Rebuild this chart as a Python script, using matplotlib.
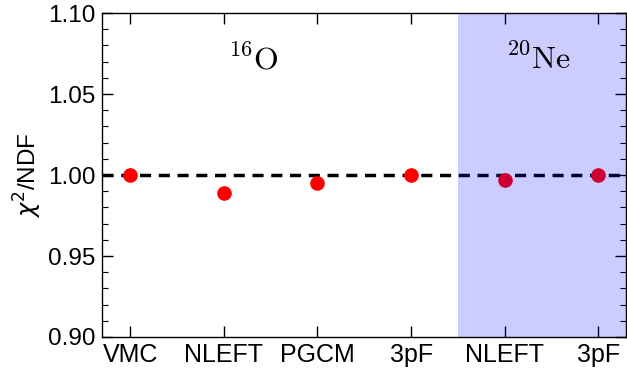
import matplotlib
matplotlib.use('Agg')
import matplotlib.pyplot as plt
from matplotlib.ticker import MultipleLocator

# datos
modelos = ['VMC', 'NLEFT', 'PGCM', '3pF', 'NLEFT', '3pF']
chi2_ndf = [1.000, 0.989, 0.995, 1.000, 0.997, 1.000]
etiqueta_o = r'$^{16}\mathrm{O}$'
etiqueta_ne = r'$^{20}\mathrm{Ne}$'

plt.rcParams['font.family'] = ['Liberation Sans', 'DejaVu Sans']

fig = plt.figure(figsize=(6.27, 3.74), dpi=100)
ax = fig.add_axes([0.163, 0.099, 0.836, 0.866])

x = list(range(len(modelos)))
ax.axhline(1.0, color='black', ls=(0, (3.2, 2.2)), lw=2.5, zorder=1)
ax.plot(x, chi2_ndf, 'o', color='red', ms=9.5, zorder=2)
# region del neon, encima de los puntos
ax.axvspan(3.5, 5.3, color='blue', alpha=0.2, lw=0, zorder=3)

ax.set_xlim(-0.3, 5.3)
ax.set_ylim(0.90, 1.10)
ax.set_xticks(x)
ax.set_xticklabels(modelos)
ax.yaxis.set_major_locator(MultipleLocator(0.05))
ax.yaxis.set_minor_locator(MultipleLocator(0.01))
ax.yaxis.set_major_formatter(matplotlib.ticker.FormatStrFormatter('%.2f'))

ax.tick_params(which='both', direction='in', top=True, right=True)
ax.tick_params(axis='y', pad=5, labelsize=17.5)
ax.tick_params(axis='x', pad=4, labelsize=18)
ax.tick_params(which='major', length=8, width=1)
ax.tick_params(which='minor', length=4, width=0.8)
ax.tick_params(axis='x', which='minor', top=False, bottom=False)

ax.set_ylabel(r'$\chi^2$/NDF', fontsize=17.5, labelpad=3)

ax.text(1.32, 1.071, etiqueta_o, fontsize=23, ha='center', va='center', math_fontfamily='cm')
ax.text(4.36, 1.071, etiqueta_ne, fontsize=23, ha='center', va='center', math_fontfamily='cm')

for s in ax.spines.values():
    s.set_linewidth(1)
    s.set_zorder(5)

plt.savefig('out.png', dpi=100)
